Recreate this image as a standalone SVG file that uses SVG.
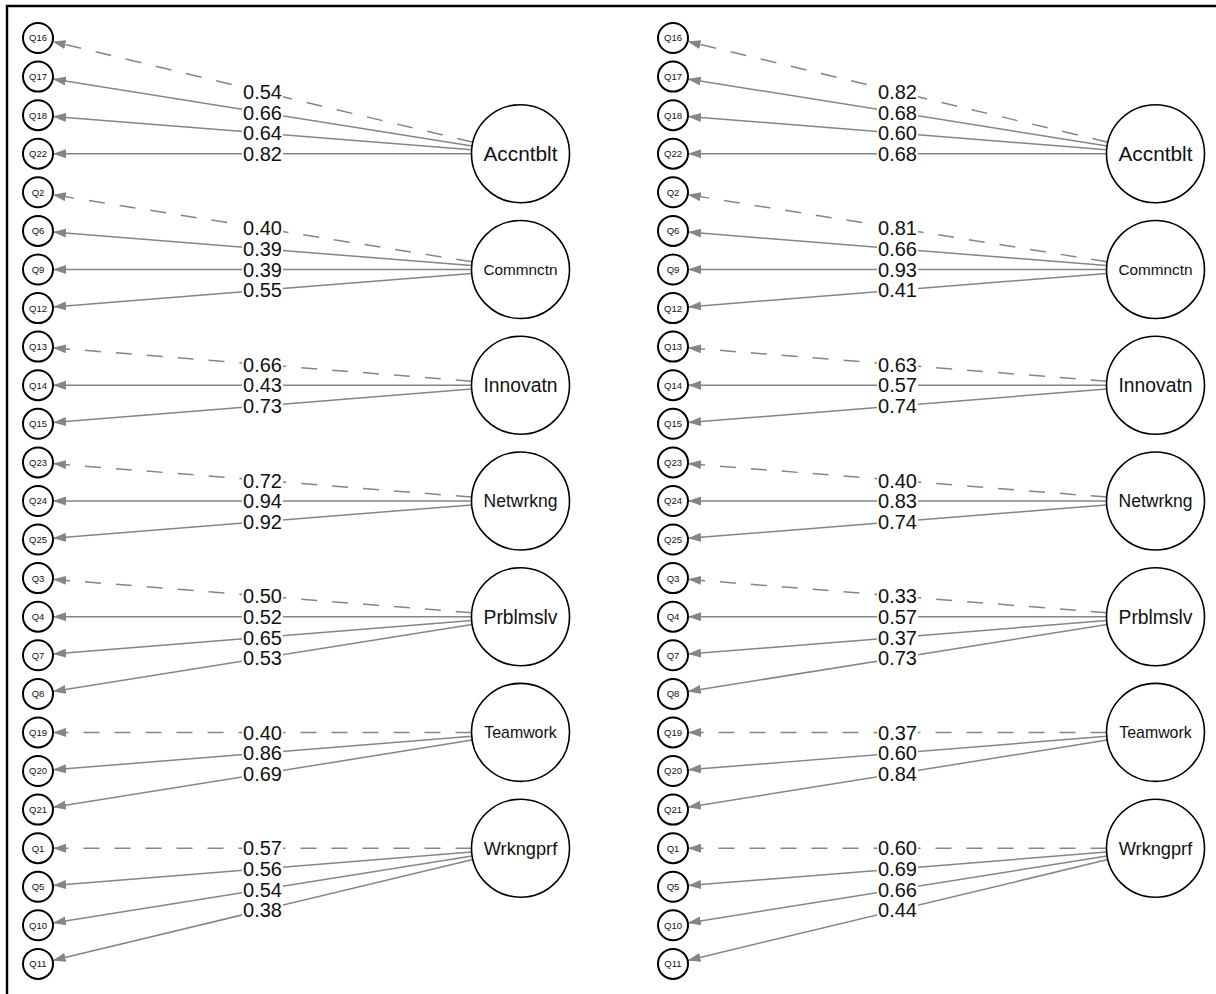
<svg xmlns="http://www.w3.org/2000/svg" width="1216" height="994" viewBox="0 0 1216 994">
<style>
.ind circle{fill:#fff;stroke:#000;stroke-width:2}
.ind text{font-family:"Liberation Sans",Arial,sans-serif;font-size:9.5px;text-anchor:middle;fill:#111}
.lat circle{fill:#fff;stroke:#000;stroke-width:1.6}
.lat text{font-family:"Liberation Sans",Arial,sans-serif;text-anchor:middle;fill:#111}
.e{stroke:#858585;stroke-width:1.5;fill:none;marker-end:url(#ah)}
.d{stroke-dasharray:16 15}
.lb rect{fill:#fff}
.lb text{font-family:"Liberation Sans",Arial,sans-serif;font-size:20px;text-anchor:middle;fill:#111}
.frame{stroke:#000;stroke-width:2.4;fill:none}
</style>
<defs>
<marker id="ah" markerUnits="userSpaceOnUse" markerWidth="13" markerHeight="9" refX="13" refY="4.5" orient="auto"><path d="M0,0 L13,4.5 L0,9 z" fill="#858585"/></marker>
</defs>
<rect width="1216" height="994" fill="#fff"/>
<path class="frame" d="M7,994 V6 H1216"/>

<g id="panel-left">
<g id="L-connectors">
<line class="e d" x1="472.9" y1="142.3" x2="52.6" y2="41.5"/>
<line class="e" x1="472.1" y1="146.0" x2="52.8" y2="79.0"/>
<line class="e" x1="471.7" y1="149.8" x2="53.0" y2="116.4"/>
<line class="e" x1="471.5" y1="153.7" x2="53" y2="153.7"/>
<line class="e d" x1="472.1" y1="261.8" x2="52.8" y2="194.7"/>
<line class="e" x1="471.7" y1="265.6" x2="53.0" y2="232.1"/>
<line class="e" x1="471.5" y1="269.5" x2="53" y2="269.5"/>
<line class="e" x1="471.7" y1="273.4" x2="53.0" y2="306.9"/>
<line class="e d" x1="471.7" y1="381.3" x2="53.0" y2="347.8"/>
<line class="e" x1="471.5" y1="385.2" x2="53" y2="385.2"/>
<line class="e" x1="471.7" y1="389.1" x2="53.0" y2="422.6"/>
<line class="e d" x1="471.7" y1="497.1" x2="53.0" y2="463.6"/>
<line class="e" x1="471.5" y1="501.0" x2="53" y2="501.0"/>
<line class="e" x1="471.7" y1="504.9" x2="53.0" y2="538.3"/>
<line class="e d" x1="471.7" y1="612.8" x2="53.0" y2="579.3"/>
<line class="e" x1="471.5" y1="616.7" x2="53" y2="616.7"/>
<line class="e" x1="471.7" y1="620.6" x2="53.0" y2="654.1"/>
<line class="e" x1="472.1" y1="624.4" x2="52.8" y2="691.5"/>
<line class="e d" x1="471.5" y1="732.4" x2="53" y2="732.4"/>
<line class="e" x1="471.7" y1="736.3" x2="53.0" y2="769.8"/>
<line class="e" x1="472.1" y1="740.1" x2="52.8" y2="807.2"/>
<line class="e d" x1="471.5" y1="848.2" x2="53" y2="848.2"/>
<line class="e" x1="471.7" y1="852.1" x2="53.0" y2="885.6"/>
<line class="e" x1="472.1" y1="855.9" x2="52.8" y2="922.9"/>
<line class="e" x1="472.9" y1="859.6" x2="52.6" y2="960.4"/>
<g class="lb">
<rect x="242" y="83.4" width="41" height="17"/><text x="262.5" y="99.1">0.54</text>
<rect x="242" y="104.0" width="41" height="17"/><text x="262.5" y="119.7">0.66</text>
<rect x="242" y="124.6" width="41" height="17"/><text x="262.5" y="140.3">0.64</text>
<rect x="242" y="145.2" width="41" height="17"/><text x="262.5" y="160.9">0.82</text>
<rect x="242" y="219.7" width="41" height="17"/><text x="262.5" y="235.4">0.40</text>
<rect x="242" y="240.3" width="41" height="17"/><text x="262.5" y="256.0">0.39</text>
<rect x="242" y="261.0" width="41" height="17"/><text x="262.5" y="276.7">0.39</text>
<rect x="242" y="281.7" width="41" height="17"/><text x="262.5" y="297.4">0.55</text>
<rect x="242" y="356.0" width="41" height="17"/><text x="262.5" y="371.7">0.66</text>
<rect x="242" y="376.7" width="41" height="17"/><text x="262.5" y="392.4">0.43</text>
<rect x="242" y="397.4" width="41" height="17"/><text x="262.5" y="413.1">0.73</text>
<rect x="242" y="471.8" width="41" height="17"/><text x="262.5" y="487.5">0.72</text>
<rect x="242" y="492.5" width="41" height="17"/><text x="262.5" y="508.2">0.94</text>
<rect x="242" y="513.1" width="41" height="17"/><text x="262.5" y="528.8">0.92</text>
<rect x="242" y="587.5" width="41" height="17"/><text x="262.5" y="603.2">0.50</text>
<rect x="242" y="608.2" width="41" height="17"/><text x="262.5" y="623.9">0.52</text>
<rect x="242" y="628.9" width="41" height="17"/><text x="262.5" y="644.6">0.65</text>
<rect x="242" y="649.5" width="41" height="17"/><text x="262.5" y="665.2">0.53</text>
<rect x="242" y="723.9" width="41" height="17"/><text x="262.5" y="739.6">0.40</text>
<rect x="242" y="744.6" width="41" height="17"/><text x="262.5" y="760.3">0.86</text>
<rect x="242" y="765.2" width="41" height="17"/><text x="262.5" y="780.9">0.69</text>
<rect x="242" y="839.7" width="41" height="17"/><text x="262.5" y="855.4">0.57</text>
<rect x="242" y="860.4" width="41" height="17"/><text x="262.5" y="876.1">0.56</text>
<rect x="242" y="880.9" width="41" height="17"/><text x="262.5" y="896.6">0.54</text>
<rect x="242" y="901.5" width="41" height="17"/><text x="262.5" y="917.2">0.38</text>
</g>
</g>
<g id="L-Q16" class="ind"><circle cx="38" cy="38.0" r="15"/><text x="38" y="41.4">Q16</text></g>
<g id="L-Q17" class="ind"><circle cx="38" cy="76.6" r="15"/><text x="38" y="80.0">Q17</text></g>
<g id="L-Q18" class="ind"><circle cx="38" cy="115.2" r="15"/><text x="38" y="118.6">Q18</text></g>
<g id="L-Q22" class="ind"><circle cx="38" cy="153.7" r="15"/><text x="38" y="157.1">Q22</text></g>
<g id="L-Q2" class="ind"><circle cx="38" cy="192.3" r="15"/><text x="38" y="195.7">Q2</text></g>
<g id="L-Q6" class="ind"><circle cx="38" cy="230.9" r="15"/><text x="38" y="234.3">Q6</text></g>
<g id="L-Q9" class="ind"><circle cx="38" cy="269.5" r="15"/><text x="38" y="272.9">Q9</text></g>
<g id="L-Q12" class="ind"><circle cx="38" cy="308.1" r="15"/><text x="38" y="311.5">Q12</text></g>
<g id="L-Q13" class="ind"><circle cx="38" cy="346.6" r="15"/><text x="38" y="350.0">Q13</text></g>
<g id="L-Q14" class="ind"><circle cx="38" cy="385.2" r="15"/><text x="38" y="388.6">Q14</text></g>
<g id="L-Q15" class="ind"><circle cx="38" cy="423.8" r="15"/><text x="38" y="427.2">Q15</text></g>
<g id="L-Q23" class="ind"><circle cx="38" cy="462.4" r="15"/><text x="38" y="465.8">Q23</text></g>
<g id="L-Q24" class="ind"><circle cx="38" cy="501.0" r="15"/><text x="38" y="504.4">Q24</text></g>
<g id="L-Q25" class="ind"><circle cx="38" cy="539.5" r="15"/><text x="38" y="542.9">Q25</text></g>
<g id="L-Q3" class="ind"><circle cx="38" cy="578.1" r="15"/><text x="38" y="581.5">Q3</text></g>
<g id="L-Q4" class="ind"><circle cx="38" cy="616.7" r="15"/><text x="38" y="620.1">Q4</text></g>
<g id="L-Q7" class="ind"><circle cx="38" cy="655.3" r="15"/><text x="38" y="658.7">Q7</text></g>
<g id="L-Q8" class="ind"><circle cx="38" cy="693.9" r="15"/><text x="38" y="697.3">Q8</text></g>
<g id="L-Q19" class="ind"><circle cx="38" cy="732.4" r="15"/><text x="38" y="735.8">Q19</text></g>
<g id="L-Q20" class="ind"><circle cx="38" cy="771.0" r="15"/><text x="38" y="774.4">Q20</text></g>
<g id="L-Q21" class="ind"><circle cx="38" cy="809.6" r="15"/><text x="38" y="813.0">Q21</text></g>
<g id="L-Q1" class="ind"><circle cx="38" cy="848.2" r="15"/><text x="38" y="851.6">Q1</text></g>
<g id="L-Q5" class="ind"><circle cx="38" cy="886.8" r="15"/><text x="38" y="890.2">Q5</text></g>
<g id="L-Q10" class="ind"><circle cx="38" cy="925.3" r="15"/><text x="38" y="928.7">Q10</text></g>
<g id="L-Q11" class="ind"><circle cx="38" cy="963.9" r="15"/><text x="38" y="967.3">Q11</text></g>
<g id="L-Accntblt" class="lat"><circle cx="520.5" cy="153.7" r="49"/><text x="520.5" y="161.1" font-size="20.8">Accntblt</text></g>
<g id="L-Commnctn" class="lat"><circle cx="520.5" cy="269.5" r="49"/><text x="520.5" y="275.0" font-size="15.3">Commnctn</text></g>
<g id="L-Innovatn" class="lat"><circle cx="520.5" cy="385.2" r="49"/><text x="520.5" y="392.1" font-size="19.3">Innovatn</text></g>
<g id="L-Netwrkng" class="lat"><circle cx="520.5" cy="501.0" r="49"/><text x="520.5" y="507.3" font-size="17.5">Netwrkng</text></g>
<g id="L-Prblmslv" class="lat"><circle cx="520.5" cy="616.7" r="49"/><text x="520.5" y="623.6" font-size="19.3">Prblmslv</text></g>
<g id="L-Teamwork" class="lat"><circle cx="520.5" cy="732.4" r="49"/><text x="520.5" y="738.1" font-size="15.9">Teamwork</text></g>
<g id="L-Wrkngprf" class="lat"><circle cx="520.5" cy="848.2" r="49"/><text x="520.5" y="854.7" font-size="18.2">Wrkngprf</text></g>
</g>

<g id="panel-right" transform="translate(635 0)">
<g id="R-connectors">
<line class="e d" x1="472.9" y1="142.3" x2="52.6" y2="41.5"/>
<line class="e" x1="472.1" y1="146.0" x2="52.8" y2="79.0"/>
<line class="e" x1="471.7" y1="149.8" x2="53.0" y2="116.4"/>
<line class="e" x1="471.5" y1="153.7" x2="53" y2="153.7"/>
<line class="e d" x1="472.1" y1="261.8" x2="52.8" y2="194.7"/>
<line class="e" x1="471.7" y1="265.6" x2="53.0" y2="232.1"/>
<line class="e" x1="471.5" y1="269.5" x2="53" y2="269.5"/>
<line class="e" x1="471.7" y1="273.4" x2="53.0" y2="306.9"/>
<line class="e d" x1="471.7" y1="381.3" x2="53.0" y2="347.8"/>
<line class="e" x1="471.5" y1="385.2" x2="53" y2="385.2"/>
<line class="e" x1="471.7" y1="389.1" x2="53.0" y2="422.6"/>
<line class="e d" x1="471.7" y1="497.1" x2="53.0" y2="463.6"/>
<line class="e" x1="471.5" y1="501.0" x2="53" y2="501.0"/>
<line class="e" x1="471.7" y1="504.9" x2="53.0" y2="538.3"/>
<line class="e d" x1="471.7" y1="612.8" x2="53.0" y2="579.3"/>
<line class="e" x1="471.5" y1="616.7" x2="53" y2="616.7"/>
<line class="e" x1="471.7" y1="620.6" x2="53.0" y2="654.1"/>
<line class="e" x1="472.1" y1="624.4" x2="52.8" y2="691.5"/>
<line class="e d" x1="471.5" y1="732.4" x2="53" y2="732.4"/>
<line class="e" x1="471.7" y1="736.3" x2="53.0" y2="769.8"/>
<line class="e" x1="472.1" y1="740.1" x2="52.8" y2="807.2"/>
<line class="e d" x1="471.5" y1="848.2" x2="53" y2="848.2"/>
<line class="e" x1="471.7" y1="852.1" x2="53.0" y2="885.6"/>
<line class="e" x1="472.1" y1="855.9" x2="52.8" y2="922.9"/>
<line class="e" x1="472.9" y1="859.6" x2="52.6" y2="960.4"/>
<g class="lb">
<rect x="242" y="83.4" width="41" height="17"/><text x="262.5" y="99.1">0.82</text>
<rect x="242" y="104.0" width="41" height="17"/><text x="262.5" y="119.7">0.68</text>
<rect x="242" y="124.6" width="41" height="17"/><text x="262.5" y="140.3">0.60</text>
<rect x="242" y="145.2" width="41" height="17"/><text x="262.5" y="160.9">0.68</text>
<rect x="242" y="219.7" width="41" height="17"/><text x="262.5" y="235.4">0.81</text>
<rect x="242" y="240.3" width="41" height="17"/><text x="262.5" y="256.0">0.66</text>
<rect x="242" y="261.0" width="41" height="17"/><text x="262.5" y="276.7">0.93</text>
<rect x="242" y="281.7" width="41" height="17"/><text x="262.5" y="297.4">0.41</text>
<rect x="242" y="356.0" width="41" height="17"/><text x="262.5" y="371.7">0.63</text>
<rect x="242" y="376.7" width="41" height="17"/><text x="262.5" y="392.4">0.57</text>
<rect x="242" y="397.4" width="41" height="17"/><text x="262.5" y="413.1">0.74</text>
<rect x="242" y="471.8" width="41" height="17"/><text x="262.5" y="487.5">0.40</text>
<rect x="242" y="492.5" width="41" height="17"/><text x="262.5" y="508.2">0.83</text>
<rect x="242" y="513.1" width="41" height="17"/><text x="262.5" y="528.8">0.74</text>
<rect x="242" y="587.5" width="41" height="17"/><text x="262.5" y="603.2">0.33</text>
<rect x="242" y="608.2" width="41" height="17"/><text x="262.5" y="623.9">0.57</text>
<rect x="242" y="628.9" width="41" height="17"/><text x="262.5" y="644.6">0.37</text>
<rect x="242" y="649.5" width="41" height="17"/><text x="262.5" y="665.2">0.73</text>
<rect x="242" y="723.9" width="41" height="17"/><text x="262.5" y="739.6">0.37</text>
<rect x="242" y="744.6" width="41" height="17"/><text x="262.5" y="760.3">0.60</text>
<rect x="242" y="765.2" width="41" height="17"/><text x="262.5" y="780.9">0.84</text>
<rect x="242" y="839.7" width="41" height="17"/><text x="262.5" y="855.4">0.60</text>
<rect x="242" y="860.4" width="41" height="17"/><text x="262.5" y="876.1">0.69</text>
<rect x="242" y="880.9" width="41" height="17"/><text x="262.5" y="896.6">0.66</text>
<rect x="242" y="901.5" width="41" height="17"/><text x="262.5" y="917.2">0.44</text>
</g>
</g>
<g id="R-Q16" class="ind"><circle cx="38" cy="38.0" r="15"/><text x="38" y="41.4">Q16</text></g>
<g id="R-Q17" class="ind"><circle cx="38" cy="76.6" r="15"/><text x="38" y="80.0">Q17</text></g>
<g id="R-Q18" class="ind"><circle cx="38" cy="115.2" r="15"/><text x="38" y="118.6">Q18</text></g>
<g id="R-Q22" class="ind"><circle cx="38" cy="153.7" r="15"/><text x="38" y="157.1">Q22</text></g>
<g id="R-Q2" class="ind"><circle cx="38" cy="192.3" r="15"/><text x="38" y="195.7">Q2</text></g>
<g id="R-Q6" class="ind"><circle cx="38" cy="230.9" r="15"/><text x="38" y="234.3">Q6</text></g>
<g id="R-Q9" class="ind"><circle cx="38" cy="269.5" r="15"/><text x="38" y="272.9">Q9</text></g>
<g id="R-Q12" class="ind"><circle cx="38" cy="308.1" r="15"/><text x="38" y="311.5">Q12</text></g>
<g id="R-Q13" class="ind"><circle cx="38" cy="346.6" r="15"/><text x="38" y="350.0">Q13</text></g>
<g id="R-Q14" class="ind"><circle cx="38" cy="385.2" r="15"/><text x="38" y="388.6">Q14</text></g>
<g id="R-Q15" class="ind"><circle cx="38" cy="423.8" r="15"/><text x="38" y="427.2">Q15</text></g>
<g id="R-Q23" class="ind"><circle cx="38" cy="462.4" r="15"/><text x="38" y="465.8">Q23</text></g>
<g id="R-Q24" class="ind"><circle cx="38" cy="501.0" r="15"/><text x="38" y="504.4">Q24</text></g>
<g id="R-Q25" class="ind"><circle cx="38" cy="539.5" r="15"/><text x="38" y="542.9">Q25</text></g>
<g id="R-Q3" class="ind"><circle cx="38" cy="578.1" r="15"/><text x="38" y="581.5">Q3</text></g>
<g id="R-Q4" class="ind"><circle cx="38" cy="616.7" r="15"/><text x="38" y="620.1">Q4</text></g>
<g id="R-Q7" class="ind"><circle cx="38" cy="655.3" r="15"/><text x="38" y="658.7">Q7</text></g>
<g id="R-Q8" class="ind"><circle cx="38" cy="693.9" r="15"/><text x="38" y="697.3">Q8</text></g>
<g id="R-Q19" class="ind"><circle cx="38" cy="732.4" r="15"/><text x="38" y="735.8">Q19</text></g>
<g id="R-Q20" class="ind"><circle cx="38" cy="771.0" r="15"/><text x="38" y="774.4">Q20</text></g>
<g id="R-Q21" class="ind"><circle cx="38" cy="809.6" r="15"/><text x="38" y="813.0">Q21</text></g>
<g id="R-Q1" class="ind"><circle cx="38" cy="848.2" r="15"/><text x="38" y="851.6">Q1</text></g>
<g id="R-Q5" class="ind"><circle cx="38" cy="886.8" r="15"/><text x="38" y="890.2">Q5</text></g>
<g id="R-Q10" class="ind"><circle cx="38" cy="925.3" r="15"/><text x="38" y="928.7">Q10</text></g>
<g id="R-Q11" class="ind"><circle cx="38" cy="963.9" r="15"/><text x="38" y="967.3">Q11</text></g>
<g id="R-Accntblt" class="lat"><circle cx="520.5" cy="153.7" r="49"/><text x="520.5" y="161.1" font-size="20.8">Accntblt</text></g>
<g id="R-Commnctn" class="lat"><circle cx="520.5" cy="269.5" r="49"/><text x="520.5" y="275.0" font-size="15.3">Commnctn</text></g>
<g id="R-Innovatn" class="lat"><circle cx="520.5" cy="385.2" r="49"/><text x="520.5" y="392.1" font-size="19.3">Innovatn</text></g>
<g id="R-Netwrkng" class="lat"><circle cx="520.5" cy="501.0" r="49"/><text x="520.5" y="507.3" font-size="17.5">Netwrkng</text></g>
<g id="R-Prblmslv" class="lat"><circle cx="520.5" cy="616.7" r="49"/><text x="520.5" y="623.6" font-size="19.3">Prblmslv</text></g>
<g id="R-Teamwork" class="lat"><circle cx="520.5" cy="732.4" r="49"/><text x="520.5" y="738.1" font-size="15.9">Teamwork</text></g>
<g id="R-Wrkngprf" class="lat"><circle cx="520.5" cy="848.2" r="49"/><text x="520.5" y="854.7" font-size="18.2">Wrkngprf</text></g>
</g>
</svg>
